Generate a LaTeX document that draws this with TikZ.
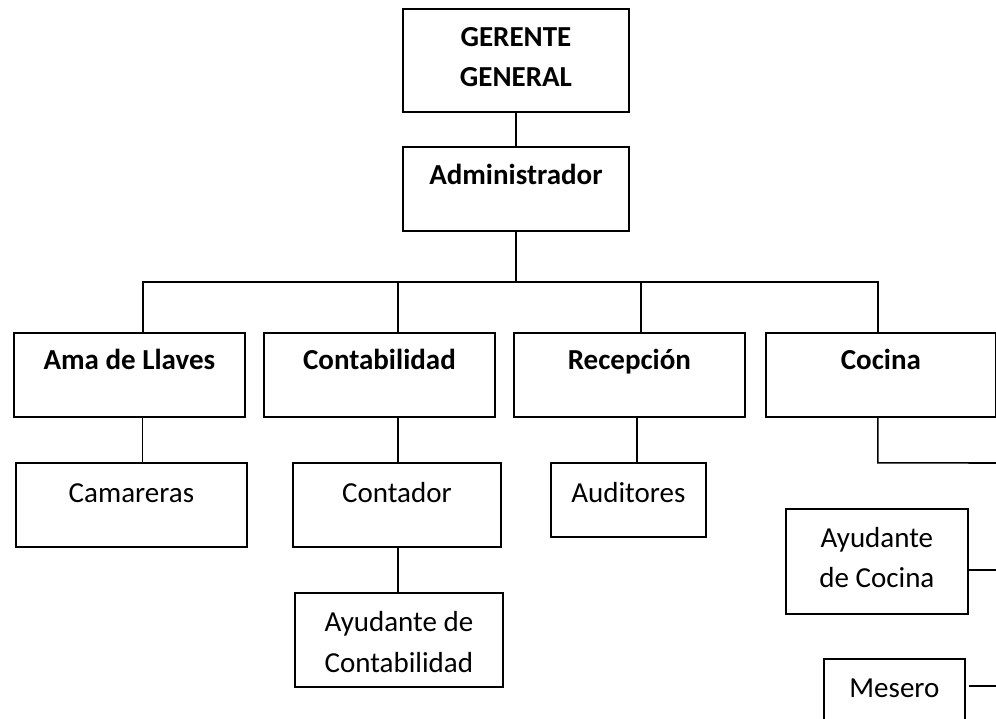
\documentclass[tikz,border=0pt]{standalone}
\usepackage{fontspec}
\setmainfont{Carlito}
\begin{document}
\begin{tikzpicture}[x=1pt,y=-1pt,
  box/.style={draw, line width=1.8pt, inner sep=0pt, anchor=north west},
  conn/.style={line width=1.6pt},
  tb/.style={font=\fontsize{29}{35}\selectfont\bfseries, anchor=base, inner sep=0pt},
  tr/.style={font=\fontsize{29}{35}\selectfont, anchor=base, inner sep=0pt}]
\useasboundingbox (0,0) rectangle (996,719);
% boxes
\node[box, minimum width=226pt, minimum height=103pt] (gg) at (402,8) {};
\node[box, minimum width=226pt, minimum height=84pt] (adm) at (402,146) {};
\node[box, minimum width=231pt, minimum height=84pt] (ama) at (13,332) {};
\node[box, minimum width=231pt, minimum height=84pt] (cont) at (263,332) {};
\node[box, minimum width=231pt, minimum height=84pt] (rec) at (513,332) {};
\node[box, minimum width=230pt, minimum height=84pt] (coc) at (765,332) {};
\node[box, minimum width=231pt, minimum height=84pt] (cam) at (15,462) {};
\node[box, minimum width=208pt, minimum height=84pt] (ctd) at (292,462) {};
\node[box, minimum width=208pt, minimum height=94pt] (ayc) at (294,592) {};
\node[box, minimum width=155pt, minimum height=74pt] (aud) at (550,462) {};
\node[box, minimum width=182pt, minimum height=105pt] (aycoc) at (785,508) {};
\node[box, minimum width=141pt, minimum height=100pt] (mes) at (823,658) {};
% texts
\node[tb] (t-gg1) at ([yshift=-39pt]gg.north) {GERENTE};
\node[tb] (t-gg2) at ([yshift=-79pt]gg.north) {GENERAL};
\node[tb] (t-adm) at ([yshift=-39pt]adm.north) {Administrador};
\node[tb] (t-ama) at ([yshift=-37pt]ama.north) {Ama de Llaves};
\node[tb] (t-cont) at ([yshift=-37pt]cont.north) {Contabilidad};
\node[tb] (t-rec) at ([yshift=-37pt]rec.north) {Recepción};
\node[tb] (t-coc) at ([yshift=-37pt]coc.north) {Cocina};
\node[tr] (t-cam) at ([yshift=-40pt]cam.north) {Camareras};
\node[tr] (t-ctd) at ([yshift=-40pt]ctd.north) {Contador};
\node[tr] (t-aud) at ([yshift=-40pt]aud.north) {Auditores};
\node[tr] (t-ayc1) at ([yshift=-39pt]ayc.north) {Ayudante de};
\node[tr] (t-ayc2) at ([yshift=-80pt]ayc.north) {Contabilidad};
\node[tr] (t-aycoc1) at ([yshift=-39pt]aycoc.north) {Ayudante};
\node[tr] (t-aycoc2) at ([yshift=-79pt]aycoc.north) {de Cocina};
\node[tr] (t-mes) at ([yshift=-39pt]mes.north) {Mesero};
% connectors
\coordinate (bus) at (515,282);
\coordinate (edge) at (1000,0);
\draw[conn] (gg.south) -- (adm.north);
\draw[conn] (adm.south) -- (adm.south |- bus);
\draw[conn] ([xshift=13.5pt]ama.north) |- ([xshift=-3pt]coc.north |- bus) -- ([xshift=-3pt]coc.north);
\draw[conn] ([xshift=18.5pt]cont.north) -- ([xshift=18.5pt]cont.north |- bus);
\draw[conn] ([xshift=11.5pt]rec.north) -- ([xshift=11.5pt]rec.north |- bus);
\draw[conn] ([xshift=13pt]ama.south) -- ([xshift=13pt]ama.south |- cam.north);
\draw[conn] ([xshift=18.5pt]cont.south) -- ([xshift=18.5pt]cont.south |- ctd.north);
\draw[conn] ([xshift=1pt]ctd.south) -- ([xshift=1pt]ctd.south |- ayc.north);
\draw[conn] ([xshift=7.5pt]rec.south) -- ([xshift=7.5pt]rec.south |- aud.north);
\coordinate (e1) at (1000,463);
\draw[conn] ([xshift=-3pt]coc.south) -- ++(0,45) -- (e1);
\draw[conn] ([yshift=-8.5pt]aycoc.east) -- ([yshift=-8.5pt]aycoc.east -| edge);
\draw[conn] ([shift={(3,28)}]mes.north east) -- ([shift={(3,28)}]mes.north east -| edge);
\end{tikzpicture}
\end{document}
